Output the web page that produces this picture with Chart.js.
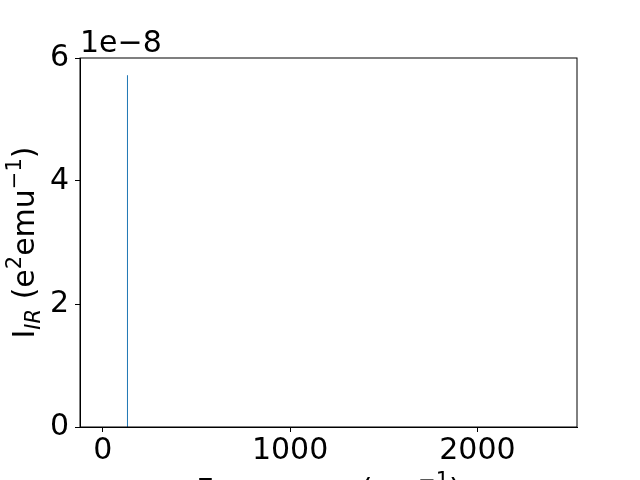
<!DOCTYPE html>
<html>
<head>
<meta charset="utf-8">
<script src="https://cdn.jsdelivr.net/npm/chart.js@4"></script>
<style>
  html, body { margin: 0; padding: 0; background: #fff; }
  #wrap { width: 640px; height: 480px; }
</style>
</head>
<body>
<div id="wrap"><canvas id="irChart" width="640" height="480"></canvas></div>
<script>
// stick spectrum data (frequency in cm^-1, intensity in e^2 emu^-1)
const frequencies = [131.5];
const intensities = [5.72e-8];
const xTicks = [0, 1000, 2000];
const yTicks = [0, 2e-8, 4e-8, 6e-8];
const yScaleExp = 1e-8;

const FONT = '"DejaVu Sans", sans-serif';

// each stick goes from 0 up to its intensity, with a gap after it
const stickPoints = [];
frequencies.forEach((f, i) => {
    stickPoints.push({x: f, y: 0});
    stickPoints.push({x: f, y: intensities[i]});
    stickPoints.push({x: f, y: null});
});

// draws frame, offset text and axis titles like matplotlib
const decorations = {
    id: 'decorations',
    afterDraw(chart) {
        const ctx = chart.ctx;
        const a = chart.chartArea;
        ctx.save();
        ctx.strokeStyle = '#000';
        ctx.lineWidth = 1;
        ctx.strokeRect(a.left, a.top, a.right - a.left, a.bottom - a.top);

        ctx.fillStyle = '#000';
        ctx.textBaseline = 'alphabetic';
        ctx.textAlign = 'left';
        ctx.font = '30px ' + FONT;
        ctx.fillText('1e\u22128', a.left, 52);

        // y title
        const big = '30px ' + FONT;
        const small = '21px ' + FONT;
        const smallIt = 'italic 21px ' + FONT;
        const ySegs = [
            {t: 'I', f: big, dy: 0},
            {t: 'IR', f: smallIt, dy: 6},
            {t: ' (e', f: big, dy: 0},
            {t: '2', f: small, dy: -13},
            {t: 'emu', f: big, dy: 0},
            {t: '\u22121', f: small, dy: -13},
            {t: ')', f: big, dy: 0}
        ];
        drawSegs(ctx, ySegs, 34, (a.top + a.bottom) / 2, true);

        // x title (mostly below the canvas edge)
        const xSegs = [
            {t: 'Frequency (cm', f: big, dy: 0},
            {t: '\u22121', f: small, dy: -13},
            {t: ')', f: big, dy: 0}
        ];
        drawSegs(ctx, xSegs, (a.left + a.right) / 2, 500, false);
        ctx.restore();
    }
};

function drawSegs(ctx, segs, cx, cy, rotated) {
    let total = 0;
    segs.forEach(s => { ctx.font = s.f; s.w = ctx.measureText(s.t).width; total += s.w; });
    ctx.save();
    ctx.translate(cx, cy);
    if (rotated) ctx.rotate(-Math.PI / 2);
    let x = -total / 2;
    segs.forEach(s => {
        ctx.font = s.f;
        ctx.fillText(s.t, x, s.dy);
        x += s.w;
    });
    ctx.restore();
}

const ctx = document.getElementById('irChart').getContext('2d');
const irChart = new Chart(ctx, {
    type: 'line',
    data: {
        datasets: [{
            data: stickPoints,
            borderColor: '#1f77b4',
            borderWidth: 1,
            pointRadius: 0,
            spanGaps: false,
            fill: false
        }]
    },
    options: {
        responsive: false,
        animation: false,
        layout: { padding: { left: 0, top: 58, right: 63, bottom: 0 } },
        plugins: { legend: { display: false }, tooltip: { enabled: false } },
        scales: {
            x: {
                type: 'linear',
                min: -122,
                max: 2532,
                afterBuildTicks: scale => { scale.ticks = xTicks.map(v => ({value: v})); },
                afterFit: scale => { scale.height = 53; },
                grid: { drawOnChartArea: false, drawTicks: true, tickLength: 5, color: '#000' },
                border: { display: true, color: '#000' },
                ticks: {
                    color: '#000',
                    font: { family: FONT, size: 30 },
                    padding: 1,
                    maxRotation: 0,
                    callback: v => String(v)
                }
            },
            y: {
                type: 'linear',
                min: 0,
                max: 6e-8,
                afterBuildTicks: scale => { scale.ticks = yTicks.map(v => ({value: v})); },
                afterFit: scale => { scale.width = 80; },
                grid: { drawOnChartArea: false, drawTicks: true, tickLength: 5, color: '#000' },
                border: { display: true, color: '#000' },
                ticks: {
                    color: '#000',
                    font: { family: FONT, size: 30 },
                    padding: 6,
                    callback: v => String(Math.round(v / yScaleExp))
                }
            }
        }
    },
    plugins: [decorations]
});
</script>
</body>
</html>
